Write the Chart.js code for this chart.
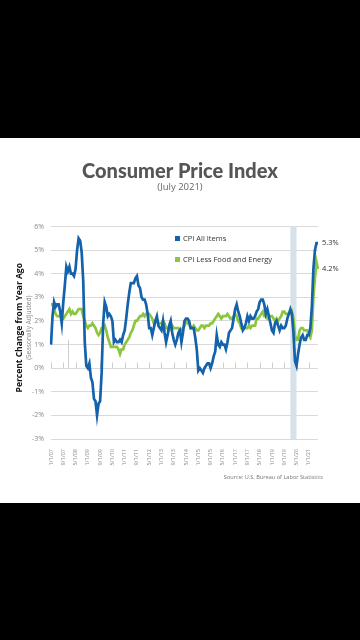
<!DOCTYPE html>
<html><head><meta charset="utf-8">
<script src="https://cdn.jsdelivr.net/npm/chart.js@4.4.0/dist/chart.umd.min.js"></script>
<style>
html,body{margin:0;padding:0;background:#000;width:360px;height:640px;overflow:hidden}
#card{position:absolute;left:0;top:138px;width:360px;height:365px;background:#fff}
canvas{display:block}
</style></head><body>
<div id="card"><canvas id="c" width="360" height="365"></canvas></div>
<script>
// ---- data (monthly, Jan 2007 - Jul 2021) ----
const startYear = 2007;
const cpiAllItems = [
 1.0, 2.2, 2.8, 2.6, 2.7, 2.7, 2.4, 1.9, 2.8, 3.5, 4.3, 4.1,
 4.3, 4.0, 4.0, 3.9, 4.2, 5.0, 5.5, 5.4, 4.9, 3.7, 1.1, 0.1,
 0.0, 0.2, -0.4, -0.6, -1.3, -1.4, -2.0, -1.5, -1.4, -0.2, 1.9, 2.8,
 2.6, 2.2, 2.3, 2.2, 2.0, 1.1, 1.2, 1.1, 1.1, 1.2, 1.1, 1.4,
 1.6, 2.1, 2.7, 3.2, 3.6, 3.6, 3.6, 3.8, 3.9, 3.5, 3.4, 3.0,
 2.9, 2.9, 2.7, 2.3, 1.7, 1.7, 1.4, 1.7, 2.0, 2.2, 1.8, 1.7,
 1.6, 2.0, 1.5, 1.1, 1.4, 1.8, 2.0, 1.5, 1.2, 1.0, 1.2, 1.5,
 1.6, 1.1, 1.5, 2.0, 2.1, 2.1, 2.0, 1.7, 1.7, 1.7, 1.3, 0.8,
 -0.1, 0.0, -0.1, -0.2, 0.0, 0.1, 0.2, 0.2, 0.0, 0.2, 0.5, 0.7,
 1.4, 1.0, 0.9, 1.1, 1.0, 1.0, 0.8, 1.1, 1.5, 1.6, 1.7, 2.1,
 2.5, 2.7, 2.4, 2.2, 1.9, 1.6, 1.7, 1.9, 2.2, 2.0, 2.2, 2.1,
 2.1, 2.2, 2.4, 2.5, 2.8, 2.9, 2.9, 2.7, 2.3, 2.5, 2.2, 1.9,
 1.6, 1.5, 1.9, 2.0, 1.8, 1.6, 1.8, 1.7, 1.7, 1.8, 2.1, 2.3,
 2.5, 2.3, 1.5, 0.3, 0.1, 0.6, 1.0, 1.3, 1.4, 1.2, 1.2, 1.4,
 1.4, 1.7, 2.6, 4.2, 5.0, 5.3, 5.3
];
const cpiCore = [
 2.7, 2.7, 2.5, 2.3, 2.2, 2.2, 2.2, 2.1, 2.1, 2.2, 2.3, 2.4,
 2.5, 2.3, 2.4, 2.3, 2.3, 2.4, 2.5, 2.5, 2.5, 2.2, 2.0, 1.8,
 1.7, 1.8, 1.8, 1.9, 1.8, 1.7, 1.5, 1.4, 1.5, 1.7, 1.7, 1.8,
 1.6, 1.3, 1.1, 0.9, 0.9, 0.9, 0.9, 0.9, 0.8, 0.6, 0.8, 0.8,
 1.0, 1.1, 1.2, 1.3, 1.5, 1.6, 1.8, 2.0, 2.0, 2.1, 2.2, 2.2,
 2.3, 2.2, 2.3, 2.3, 2.3, 2.2, 2.1, 1.9, 2.0, 2.0, 1.9, 1.9,
 1.9, 2.0, 1.9, 1.7, 1.7, 1.6, 1.7, 1.8, 1.7, 1.7, 1.7, 1.7,
 1.6, 1.6, 1.7, 1.8, 2.0, 1.9, 1.9, 1.7, 1.7, 1.8, 1.7, 1.6,
 1.6, 1.7, 1.8, 1.8, 1.7, 1.8, 1.8, 1.8, 1.9, 1.9, 2.0, 2.1,
 2.2, 2.3, 2.2, 2.1, 2.2, 2.2, 2.2, 2.3, 2.2, 2.1, 2.1, 2.2,
 2.3, 2.2, 2.0, 1.9, 1.7, 1.7, 1.7, 1.7, 1.7, 1.8, 1.7, 1.8,
 1.8, 1.8, 2.1, 2.1, 2.2, 2.3, 2.4, 2.2, 2.2, 2.1, 2.2, 2.2,
 2.2, 2.1, 2.0, 2.1, 2.0, 2.1, 2.2, 2.4, 2.4, 2.3, 2.3, 2.3,
 2.3, 2.4, 2.1, 1.4, 1.2, 1.2, 1.6, 1.7, 1.7, 1.6, 1.6, 1.6,
 1.4, 1.3, 1.6, 3.0, 3.8, 4.5, 4.2
];
const seriesNames = ['CPI All Items', 'CPI Less Food and Energy'];
const tickLabels = ['1/1/07','9/1/07','5/1/08','1/1/09','9/1/09','5/1/10','1/1/11','9/1/11',
 '5/1/12','1/1/13','9/1/13','5/1/14','1/1/15','9/1/15','5/1/16','1/1/17','9/1/17','5/1/18',
 '1/1/19','9/1/19','5/1/20','1/1/21'];
const shadeFrom = '1/1/20', shadeTo = '5/1/20';
const markerMonth = '12/1/07', markerTop = 1.2;

// month category labels
const months = cpiAllItems.map((_, i) => `${i % 12 + 1}/1/${String((startYear + Math.floor(i / 12)) % 100).padStart(2, '0')}`);

const BLUE = '#1462ab', GREEN = '#8cc63f';
const FONT = "'Open Sans', sans-serif";

const decor = {
  id: 'decor',
  beforeDatasetsDraw(chart) {
    const {ctx, chartArea: a, scales: {x, y}} = chart;
    ctx.save();
    const x0 = x.getPixelForValue(months.indexOf(shadeFrom));
    const x1 = x.getPixelForValue(months.indexOf(shadeTo));
    ctx.fillStyle = '#d6e1ea';
    ctx.fillRect(x0, a.top, x1 - x0, a.bottom - a.top);
    ctx.strokeStyle = '#cdcdcd'; ctx.lineWidth = 1;
    const y0 = Math.round(y.getPixelForValue(0)) + 0.5;
    tickLabels.forEach(l => {
      const px = Math.round(x.getPixelForValue(months.indexOf(l))) + 0.5;
      ctx.beginPath(); ctx.moveTo(px, y0); ctx.lineTo(px, y0 - 6); ctx.stroke();
    });
    const mx = Math.round(x.getPixelForValue(months.indexOf(markerMonth))) + 0.5;
    ctx.beginPath(); ctx.moveTo(mx, y0); ctx.lineTo(mx, y.getPixelForValue(markerTop)); ctx.stroke();
    ctx.restore();
  },
  afterDatasetsDraw(chart) {
    const {ctx, chartArea: a, scales: {x, y}} = chart;
    ctx.save();
    ctx.font = `7.5px ${FONT}`; ctx.fillStyle = '#333'; ctx.textBaseline = 'middle'; ctx.textAlign = 'left';
    chart.data.datasets.forEach(ds => {
      const i = ds.data.length - 1;
      const px = x.getPixelForValue(i), py = y.getPixelForValue(ds.data[i]);
      ctx.fillText(ds.data[i].toFixed(1) + '%', px + 4, py);
    });
    const lx = a.left + 124;
    chart.data.datasets.forEach((ds, k) => {
      const ly = a.top + 12 + k * 21;
      ctx.fillStyle = ds.borderColor;
      ctx.fillRect(lx, ly - 2.5, 5, 5);
      ctx.fillStyle = '#333';
      ctx.font = `7.5px ${FONT}`;
      ctx.fillText(ds.label, lx + 8, ly);
    });
    ctx.restore();
  },
  afterDraw(chart) {
    const {ctx, chartArea: a} = chart;
    ctx.save();
    const cy = (a.top + a.bottom) / 2 - 5;
    ctx.textAlign = 'center'; ctx.textBaseline = 'middle';
    ctx.translate(20, cy); ctx.rotate(-Math.PI / 2);
    ctx.fillStyle = '#111'; ctx.font = `bold 8.5px ${FONT}`;
    ctx.fillText('Percent Change from Year Ago', 0, 0);
    ctx.fillStyle = '#888'; ctx.font = `6.5px ${FONT}`;
    ctx.fillText('(Seasonally Adjusted)', 0, 9.5);
    ctx.restore();
    ctx.save();
    ctx.fillStyle = '#777'; ctx.font = `5.6px ${FONT}`; ctx.textAlign = 'right'; ctx.textBaseline = 'middle';
    ctx.fillText('Source: U.S. Bureau of Labor Statistics', a.right + 5, a.bottom + 38);
    ctx.restore();
  }
};

new Chart(document.getElementById('c'), {
  type: 'line',
  data: {
    labels: months,
    datasets: [
      {label: seriesNames[0], data: cpiAllItems, borderColor: BLUE, backgroundColor: BLUE, borderWidth: 2.7, pointRadius: 0, tension: 0},
      {label: seriesNames[1], data: cpiCore, borderColor: GREEN, backgroundColor: GREEN, borderWidth: 2.7, pointRadius: 0, tension: 0}
    ]
  },
  options: {
    responsive: false,
    animation: false,
    events: [],
    layout: {padding: 0},
    plugins: {
      legend: {display: false},
      tooltip: {enabled: false},
      title: {display: true, text: 'Consumer Price Index', color: '#555', font: {family: "Lato, 'Open Sans', sans-serif", size: 20, weight: 900, lineHeight: 1}, padding: {top: 24, bottom: 0}},
      subtitle: {display: true, text: '(July 2021)', color: '#666', font: {family: FONT, size: 9.5, lineHeight: 1}, padding: {top: 1, bottom: 34}}
    },
    scales: {
      x: {
        grid: {display: false},
        border: {display: false},
        ticks: {
          autoSkip: false, maxRotation: 90, minRotation: 90, padding: 2,
          color: '#8a8a8a', font: {family: FONT, size: 5.5},
          callback: (v, i) => tickLabels.includes(months[i]) ? months[i] : null
        },
        afterFit: s => { s.height = 64; }
      },
      y: {
        min: -3, max: 6,
        grid: {color: '#dadada', lineWidth: 1, drawTicks: false},
        border: {display: false},
        ticks: {stepSize: 1, padding: 7, color: '#8a8a8a', font: {family: FONT, size: 7}, callback: v => v + '%'},
        afterFit: s => { s.width = 51; }
      },
      yRight: {
        position: 'right', min: -3, max: 6,
        grid: {display: false}, border: {display: false},
        ticks: {display: false},
        afterFit: s => { s.width = 42; }
      }
    }
  },
  plugins: [decor]
});
</script>
</body></html>
